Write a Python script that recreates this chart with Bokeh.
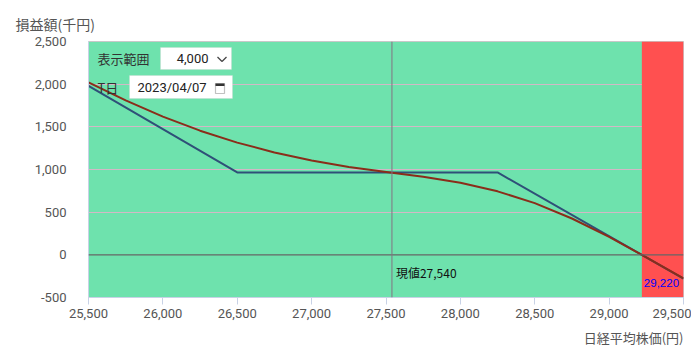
from bokeh.plotting import figure
from bokeh.models import (Range1d, Span, BoxAnnotation, Label, FixedTicker,
                          NumeralTickFormatter, Arrow, Title)
from bokeh.embed import file_html
from bokeh.resources import INLINE

# ---- data ----
x_ticks = [25500, 26000, 26500, 27000, 27500, 28000, 28500, 29000, 29500]
y_ticks = [-500, 0, 500, 1000, 1500, 2000, 2500]

# P/L at expiry (blue)
expiry_price = [25500, 26500, 28250, 29220, 29500]
expiry_pl = [1980, 965, 965, 0, -279]

# P/L at T-day (red)
tday_price = [25500, 25750, 26000, 26250, 26500, 26750, 27000, 27250, 27540,
              27750, 28000, 28250, 28500, 28750, 29000, 29220, 29500]
tday_pl = [2020, 1810, 1620, 1455, 1315, 1200, 1105, 1030, 962,
           914, 844, 744, 606, 426, 211, 0, -275]

current_price = 27540
breakeven = 29220
range_value = "4,000"
t_date = "2023/04/07"

JP = "Noto Sans CJK JP"
NUM = "Roboto"

p = figure(width=691, height=352, output_backend="svg", toolbar_location=None,
           x_range=Range1d(x_ticks[0], x_ticks[-1]),
           y_range=Range1d(y_ticks[0], y_ticks[-1]),
           min_border_left=88, min_border_right=8, min_border_top=41,
           min_border_bottom=55,
           background_fill_color="#6ee2ad", border_fill_color="white",
           outline_line_color="#c8c8c8")

# axes
p.xaxis.ticker = FixedTicker(ticks=x_ticks)
p.yaxis.ticker = FixedTicker(ticks=y_ticks)
p.xaxis.formatter = NumeralTickFormatter(format="0,0")
p.yaxis.formatter = NumeralTickFormatter(format="0,0")
for ax in (p.xaxis, p.yaxis):
    ax.major_label_text_font = NUM
    ax.major_label_text_font_size = "13px"
    ax.major_label_text_color = "#555555"
    ax.minor_tick_line_color = None
    ax.axis_line_color = "#c8d2e6"
p.xaxis.major_tick_line_color = "#c8d2e6"
p.xaxis.major_tick_out = 7
p.xaxis.major_tick_in = 0
p.xaxis.major_label_standoff = 4
p.yaxis.major_tick_line_color = None
p.yaxis.major_label_standoff = 16

p.xgrid.grid_line_color = None
p.ygrid.ticker = FixedTicker(ticks=[500, 1000, 1500, 2000])
p.ygrid.grid_line_color = "#d2b8c6"

# axis titles
p.add_layout(Title(text="損益額(千円)", align="left", offset=-73, text_font=JP,
                   text_font_size="14px", text_font_style="normal",
                   text_color="#555555", standoff=16), "above")
p.add_layout(Title(text="日経平均株価(円)", align="right", offset=0, text_font=JP,
                   text_font_size="13px", text_font_style="normal",
                   text_color="#555555"), "below")

# danger zone beyond breakeven
p.add_layout(BoxAnnotation(left=breakeven, right=x_ticks[-1], fill_color="#ff5050",
                           fill_alpha=1, line_color=None, level="underlay"))

p.add_layout(Span(location=0, dimension="width", line_color="#666666", line_width=1.3))
p.add_layout(Span(location=current_price, dimension="height", line_color="#857383",
                  line_width=1))

p.line(expiry_price, expiry_pl, line_color="#2f5078", line_width=2, line_join="round")
p.line(tday_price, tday_pl, line_color="#8a2d1a", line_width=2, line_join="round")

# labels
p.add_layout(Label(x=current_price, y=-210, x_offset=4, text=f"現値{current_price:,}",
                   text_font=JP, text_font_size="12px", text_color="#111111",
                   text_baseline="middle"))
p.add_layout(Label(x=breakeven, y=-333, x_offset=2, text=f"{breakeven:,}",
                   text_font="Liberation Sans", text_font_size="11.5px", text_color="#0000ff",
                   text_baseline="middle"))

# controls overlay
p.add_layout(Label(x=9, y=239, x_units="screen", y_units="screen", text="表示範囲",
                   text_font=JP, text_font_size="13px", text_color="#333333",
                   text_baseline="middle"))
p.add_layout(BoxAnnotation(left=72, right=143, bottom=228, top=250, left_units="screen",
                           right_units="screen", top_units="screen", bottom_units="screen",
                           fill_color="white", fill_alpha=1, line_color="#cccccc",
                           line_width=1))
p.add_layout(Label(x=120, y=239, x_units="screen", y_units="screen", text=range_value,
                   text_font=NUM, text_font_size="13px", text_color="#222222",
                   text_baseline="middle", text_align="right"))
for xs, ys, xe, ye in [(129, 240.5, 133.5, 236), (133.5, 236, 138, 240.5)]:
    p.add_layout(Arrow(x_start=xs, y_start=ys, x_end=xe, y_end=ye, start_units="screen",
                       end_units="screen", end=None, line_color="#444444", line_width=1.3))

p.add_layout(Label(x=9, y=210, x_units="screen", y_units="screen", text="T日",
                   text_font=JP, text_font_size="13px", text_color="#333333",
                   text_baseline="middle"))
p.add_layout(BoxAnnotation(left=41, right=144, bottom=199, top=222, left_units="screen",
                           right_units="screen", top_units="screen", bottom_units="screen",
                           fill_color="white", fill_alpha=1, line_color="#cccccc",
                           line_width=1))
p.add_layout(Label(x=49, y=210, x_units="screen", y_units="screen", text=t_date,
                   text_font=NUM, text_font_size="13px", text_color="#222222",
                   text_baseline="middle"))
p.add_layout(BoxAnnotation(left=127, right=136, bottom=204, top=214, left_units="screen",
                           right_units="screen", top_units="screen", bottom_units="screen",
                           fill_color="white", fill_alpha=1, line_color="#333333",
                           line_width=1.2))
p.add_layout(BoxAnnotation(left=127, right=136, bottom=211.5, top=214, left_units="screen",
                           right_units="screen", top_units="screen", bottom_units="screen",
                           fill_color="#333333", fill_alpha=1, line_color=None))

open("out.html", "w").write(file_html(p, INLINE))
